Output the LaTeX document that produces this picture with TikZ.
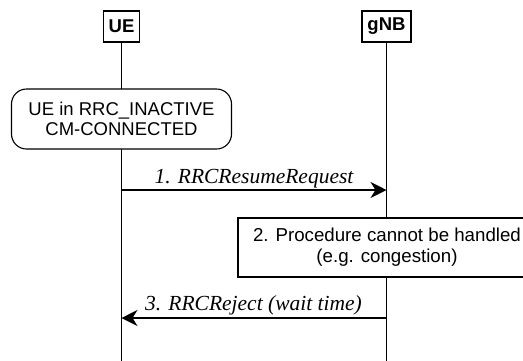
\documentclass[tikz,border=0pt]{standalone}
\usepackage{fontspec}
\setmainfont{Liberation Serif}
\setsansfont{Liberation Sans}
\usetikzlibrary{arrows.meta}

\begin{document}
\begin{tikzpicture}[x=1pt,y=-1pt,line width=1.1pt,
        entity/.style={draw,fill=white,font=\sffamily\bfseries\fontsize{18.5}{21}\selectfont,inner xsep=5.5pt,inner ysep=0pt,minimum height=31pt},
        state/.style={draw,fill=white,rounded corners=15pt,align=center,font=\sffamily\fontsize{18.5}{20}\selectfont,minimum width=220pt,minimum height=60pt},
        action/.style={draw,fill=white,align=center,font=\sffamily\fontsize{18.7}{21}\selectfont,minimum width=298pt,minimum height=59pt},
        msg/.style={-{Stealth[length=16pt,width=16pt,inset=5pt]}},
        msglabel/.style={anchor=base,font=\itshape\fontsize{21.5}{24}\selectfont}]
        \useasboundingbox (0,0) rectangle (523,360);
        \clip (0,0) rectangle (523,360);

        % lifelines
        \node[entity] (ue) at (121.5,26.5) {UE};
        \node[entity] (gnb) at (386.5,26.5) {gNB};
        \coordinate (ue-end) at (121.5,362);
        \coordinate (gnb-end) at (386.5,362);
        \draw (ue) -- (ue-end);
        \draw (gnb) -- (gnb-end);

        \node[state] (inactive) at (121.5,119) {UE in RRC\_INACTIVE\\CM-CONNECTED};

        % 1
        \coordinate (req-ue) at (121.5,190);
        \coordinate (req-gnb) at (386.5,190);
        \draw[msg] (req-ue) -- (req-gnb);
        \node[msglabel] (req) at (254,183) {1. RRCResumeRequest};

        % 2
        \node[action] (congestion) at (387,247.5) {2. Procedure cannot be handled\\(e.g. congestion)};

        % 3
        \coordinate (rej-gnb) at (386.5,318);
        \coordinate (rej-ue) at (121.5,318);
        \draw[msg] (rej-gnb) -- (rej-ue);
        \node[msglabel] (rej) at (253.5,310) {3. RRCReject (wait time)};
    \end{tikzpicture}
\end{document}
